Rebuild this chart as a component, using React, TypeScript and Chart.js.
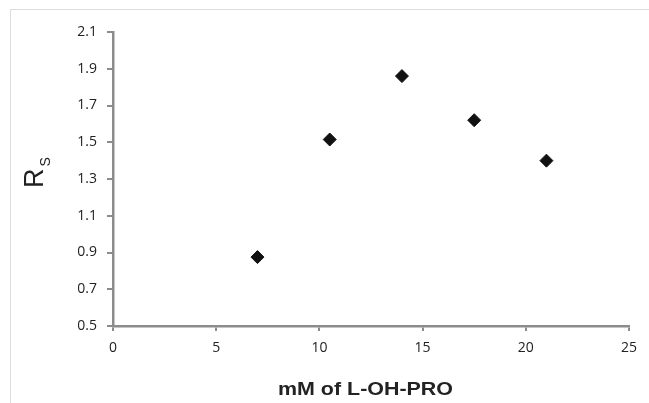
import React, { useEffect, useRef } from "react";
import { Chart, registerables } from "chart.js";

Chart.register(...registerables);

const concentrations = [7, 10.5, 14, 17.5, 21];
const rsValues = [0.875, 1.515, 1.86, 1.62, 1.4];
const xTitle = "mM of L-OH-PRO";
const yTitleMain = "R";
const yTitleSub = "S";

const framePlugin = {
  id: "frame",
  beforeDraw(chart: any) {
    const ctx = chart.ctx;
    ctx.save();
    ctx.strokeStyle = "#dcdcdc";
    ctx.lineWidth = 1;
    ctx.beginPath();
    ctx.moveTo(10.5, 403);
    ctx.lineTo(10.5, 9.5);
    ctx.lineTo(649, 9.5);
    ctx.stroke();
    ctx.restore();
  },
  afterDraw(chart: any) {
    const ctx = chart.ctx;
    ctx.save();
    ctx.translate(43, 188);
    ctx.rotate(-Math.PI / 2);
    ctx.fillStyle = "#222";
    ctx.textAlign = "left";
    ctx.textBaseline = "alphabetic";
    ctx.font = "27px 'Liberation Sans', Arial, sans-serif";
    ctx.fillText(yTitleMain, 0, 0);
    const rw = ctx.measureText(yTitleMain).width;
    ctx.font = "14px 'Liberation Sans', Arial, sans-serif";
    ctx.fillText(yTitleSub, rw + 2, 7);
    ctx.restore();

    ctx.save();
    ctx.fillStyle = "#222";
    ctx.textAlign = "center";
    ctx.textBaseline = "middle";
    ctx.font = "bold 19px 'Liberation Sans', Arial, sans-serif";
    const w = ctx.measureText(xTitle).width;
    const sx = 175 / w;
    ctx.translate(365.5, 390);
    ctx.scale(sx, 1);
    ctx.fillText(xTitle, 0, 0);
    ctx.restore();
  },
};

export default function App() {
  const ref = useRef<HTMLCanvasElement>(null);
  useEffect(() => {
    if (!ref.current) return;
    const axisColor = "#8c8c8c";
    const tickFont = { family: "'Open Sans', sans-serif", size: 14 };
    const chart = new Chart(ref.current, {
      type: "scatter",
      data: {
        datasets: [
          {
            data: concentrations.map((x, i) => ({ x, y: rsValues[i] })),
            pointStyle: "rectRot",
            pointRadius: 6.5,
            backgroundColor: "#111",
            borderColor: "#111",
            borderWidth: 1,
          },
        ],
      },
      options: {
        animation: false,
        responsive: false,
        maintainAspectRatio: false,
        layout: { padding: { left: 0, right: 20, top: 32, bottom: 0 } },
        plugins: { legend: { display: false }, tooltip: { enabled: false } },
        scales: {
          x: {
            type: "linear",
            min: 0,
            max: 25,
            afterFit(scale: any) {
              scale.height = 77;
            },
            ticks: {
              stepSize: 5,
              color: "#222",
              font: tickFont,
              padding: 9,
              maxRotation: 0,
            },
            grid: {
              drawOnChartArea: false,
              drawTicks: true,
              tickLength: 5,
              color: axisColor,
              lineWidth: 2,
            },
            border: { color: axisColor, width: 2.5 },
          },
          y: {
            type: "linear",
            min: 0.5,
            max: 2.1,
            afterFit(scale: any) {
              scale.width = 113;
            },
            ticks: {
              stepSize: 0.2,
              color: "#222",
              font: tickFont,
              padding: 10,
              callback: (v: any) => Number(v).toFixed(1),
            },
            grid: {
              drawOnChartArea: false,
              drawTicks: true,
              tickLength: 6,
              color: axisColor,
              lineWidth: 2,
            },
            border: { color: axisColor, width: 2.5 },
          },
        },
      },
      plugins: [framePlugin],
    });
    return () => chart.destroy();
  }, []);
  return (
    <div style={{ position: "fixed", left: 0, top: 0, width: 649, height: 403, background: "#fff" }}>
      <canvas ref={ref} width={649} height={403} style={{ display: "block" }} />
    </div>
  );
}
